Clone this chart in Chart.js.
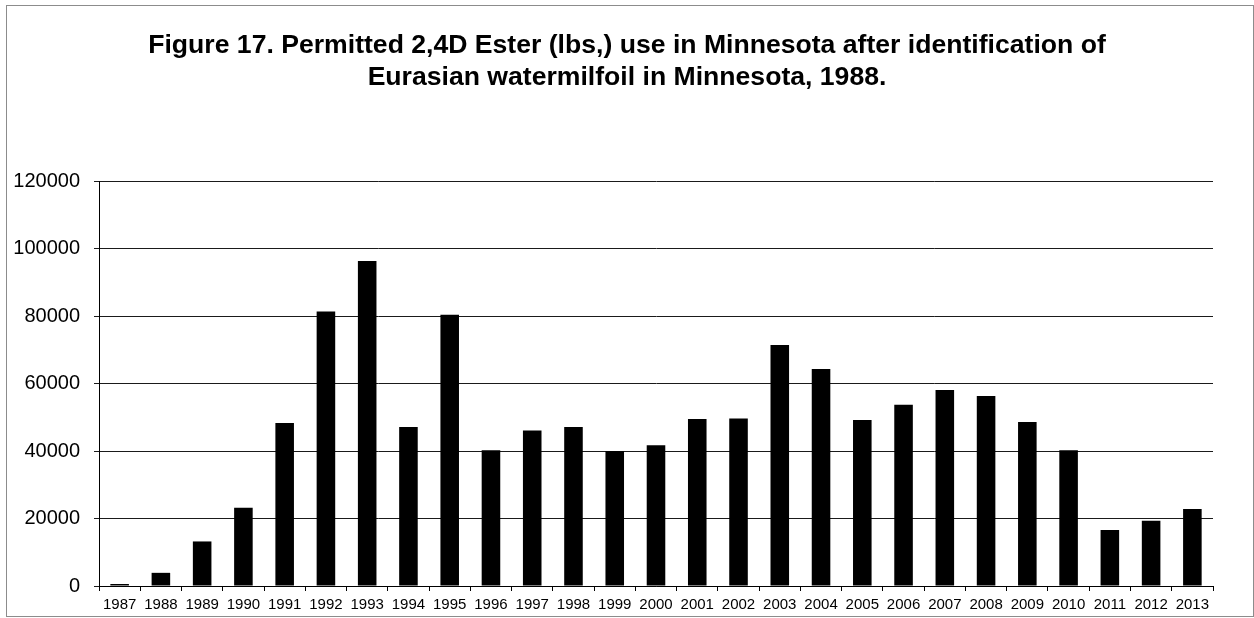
<!DOCTYPE html>
<html>
<head>
<meta charset="utf-8">
<title>Permitted 2,4D Ester use in Minnesota</title>
<script src="https://cdn.jsdelivr.net/npm/chart.js@4/dist/chart.umd.min.js"></script>
<style>
  html, body { margin: 0; padding: 0; background: #fff; }
  #wrap { width: 1254px; height: 618px; }
</style>
</head>
<body>
<div id="wrap"><canvas id="esterChart" width="1254" height="618"></canvas></div>
<script>
const years = ['1987', '1988', '1989', '1990', '1991', '1992', '1993', '1994', '1995', '1996',
    '1997', '1998', '1999', '2000', '2001', '2002', '2003', '2004', '2005', '2006',
    '2007', '2008', '2009', '2010', '2011', '2012', '2013'];
const esterLbs = [600, 3900, 13200, 23200, 48300, 81300, 96300, 47100, 80400, 40200,
    46100, 47100, 40000, 41700, 49500, 49600, 71400, 64300, 49200, 53700,
    58100, 56300, 48600, 40200, 16600, 19300, 22800];
const yTicks = [0, 20000, 40000, 60000, 80000, 100000, 120000];
const titleLines = [
    'Figure 17. Permitted 2,4D Ester (lbs,) use in Minnesota after identification of',
    'Eurasian watermilfoil in Minnesota, 1988.'
];

const FONT = "'Liberation Sans', Arial, sans-serif";

// white page plus the thin grey frame round the whole figure
const framePlugin = {
    id: 'frame',
    beforeDraw(chart) {
        const ctx = chart.ctx;
        ctx.save();
        ctx.fillStyle = '#fff';
        ctx.fillRect(0, 0, chart.width, chart.height);
        ctx.restore();
    },
    afterDraw(chart) {
        const ctx = chart.ctx;
        ctx.save();
        ctx.strokeStyle = '#8c8c8c';
        ctx.lineWidth = 1;
        ctx.strokeRect(6.5, 5.5, 1247, 611);
        ctx.restore();
    }
};

new Chart(document.getElementById('esterChart'), {
    type: 'bar',
    data: {
        labels: years,
        datasets: [{
            data: esterLbs,
            backgroundColor: '#000',
            borderWidth: 0,
            categoryPercentage: 1,
            barPercentage: 0.45
        }]
    },
    options: {
        responsive: false,
        animation: false,
        devicePixelRatio: 1,
        layout: { padding: 0 },
        plugins: {
            legend: { display: false },
            tooltip: { enabled: false },
            title: {
                display: true,
                text: titleLines,
                color: '#000',
                font: { family: FONT, size: 26.6, weight: 'bold', lineHeight: 32 / 26.6 },
                padding: { top: 30, bottom: 87 }
            }
        },
        scales: {
            x: {
                grid: {
                    display: true,
                    drawOnChartArea: false,
                    drawTicks: true,
                    tickLength: 5,
                    color: '#000',
                    offset: true
                },
                border: { display: true, color: '#000', width: 1 },
                ticks: {
                    color: '#000',
                    font: { family: FONT, size: 15 },
                    padding: 5,
                    maxRotation: 0,
                    autoSkip: false
                },
                afterFit(scale) { scale.height = 32; }
            },
            y: {
                min: 0,
                max: 120000,
                afterBuildTicks(scale) {
                    scale.ticks = yTicks.map(v => ({ value: v }));
                },
                grid: {
                    color: '#1a1a1a',
                    lineWidth: 1,
                    drawTicks: true,
                    tickLength: 5
                },
                border: { display: true, color: '#000', width: 1 },
                ticks: {
                    color: '#000',
                    font: { family: FONT, size: 20 },
                    padding: 14,
                    callback: v => String(v)
                },
                afterFit(scale) { scale.width = 99; }
            },
            // empty right-hand axis, only reserves the white margin
            yRight: {
                position: 'right',
                grid: { display: false },
                border: { display: false },
                ticks: { display: false },
                afterFit(scale) { scale.width = 41; }
            }
        }
    },
    plugins: [framePlugin]
});
</script>
</body>
</html>
